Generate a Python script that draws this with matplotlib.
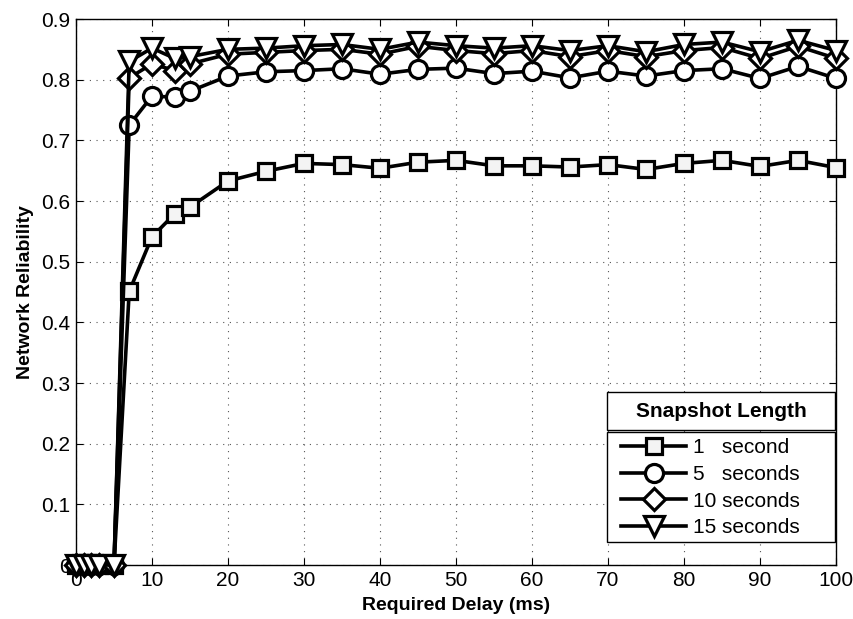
import numpy as np
import matplotlib as mpl
mpl.use('Agg')
import matplotlib.pyplot as plt
from matplotlib.patches import Rectangle

plt.rcParams['font.family'] = ['Liberation Sans', 'DejaVu Sans']

delay = [0, 1, 2, 3, 5, 7, 10, 13, 15, 20, 25, 30, 35, 40, 45, 50,
         55, 60, 65, 70, 75, 80, 85, 90, 95, 100]

rel_1s = [0, 0, 0, 0, 0, 0.451, 0.541, 0.579, 0.590, 0.633, 0.649, 0.662,
          0.660, 0.654, 0.664, 0.667, 0.658, 0.658, 0.656, 0.660, 0.652,
          0.662, 0.667, 0.657, 0.667, 0.655]
rel_5s = [0, 0, 0, 0, 0, 0.725, 0.773, 0.771, 0.781, 0.806, 0.813, 0.815,
          0.818, 0.809, 0.817, 0.819, 0.810, 0.814, 0.803, 0.814, 0.806,
          0.815, 0.818, 0.802, 0.822, 0.802]
rel_10s = [0, 0, 0, 0, 0, 0.803, 0.826, 0.815, 0.826, 0.842, 0.845, 0.848,
           0.850, 0.842, 0.855, 0.848, 0.843, 0.848, 0.838, 0.848, 0.838,
           0.848, 0.853, 0.835, 0.855, 0.835]
rel_15s = [0, 0, 0, 0, 0, 0.830, 0.852, 0.835, 0.838, 0.850, 0.852, 0.856,
           0.858, 0.850, 0.862, 0.856, 0.852, 0.856, 0.848, 0.856, 0.846,
           0.858, 0.862, 0.846, 0.865, 0.848]

labels = ['1   second', '5   seconds', '10 seconds', '15 seconds']
markers = ['s', 'o', 'D', 'v']
sizes = [11, 13, 11, 15]
faces = ['#f4f4f4', 'white', 'white', 'white']

fig = plt.figure(figsize=(8.54, 6.19), dpi=100)
ax = fig.add_axes([0.089, 0.0872, 0.89, 0.8821])

series = [rel_1s, rel_5s, rel_10s, rel_15s]
handles = []
for vals, lab, mk, ms, fc in zip(series, labels, markers, sizes, faces):
    h, = ax.plot(delay, vals, color='black', lw=2.6, marker=mk,
                 markersize=ms, markerfacecolor=fc, markeredgecolor='black',
                 markeredgewidth=2.3, label=lab, clip_on=False, zorder=3)
    handles.append(h)

ax.set_xlim(0, 100)
ax.set_ylim(0, 0.9)
ax.set_xticks(np.arange(0, 101, 10))
ax.set_yticks(np.arange(0, 0.91, 0.1))
ax.set_yticklabels(['0'] + ['%.1f' % v for v in np.arange(0.1, 0.91, 0.1)])
ax.tick_params(direction='in', top=True, right=True, labelsize=15,
               length=5, width=0.8, pad=4)
ax.grid(True, linestyle=(0, (1, 5)), color='#555555', lw=0.8)
for sp in ax.spines.values():
    sp.set_linewidth(1.0)

ax.set_xlabel('Required Delay (ms)', fontsize=14, fontweight='bold',
              labelpad=5)
ax.set_ylabel('Network Reliability', fontsize=14, fontweight='bold',
              labelpad=5)

# legend boxes: title cell on top, entries cell below
x0, x1 = 0.699, 0.998
ax.add_patch(Rectangle((x0, 0.042), x1 - x0, 0.2015, transform=ax.transAxes,
                       facecolor='white', edgecolor='black', lw=1.0,
                       zorder=4, clip_on=False))
ax.add_patch(Rectangle((x0, 0.247), x1 - x0, 0.070, transform=ax.transAxes,
                       facecolor='white', edgecolor='black', lw=1.0,
                       zorder=4, clip_on=False))
ax.text((x0 + x1) / 2, 0.282, 'Snapshot Length', transform=ax.transAxes,
        ha='center', va='center', fontsize=15, fontweight='bold', zorder=5)

leg = ax.legend(handles=handles, loc='upper left',
                bbox_to_anchor=(x0 + 0.013, 0.240), frameon=False,
                fontsize=15, handlelength=3.1, handletextpad=0.35,
                labelspacing=0.37, borderpad=0.2, borderaxespad=0)
leg.set_zorder(6)

fig.savefig('out.png', dpi=100)
